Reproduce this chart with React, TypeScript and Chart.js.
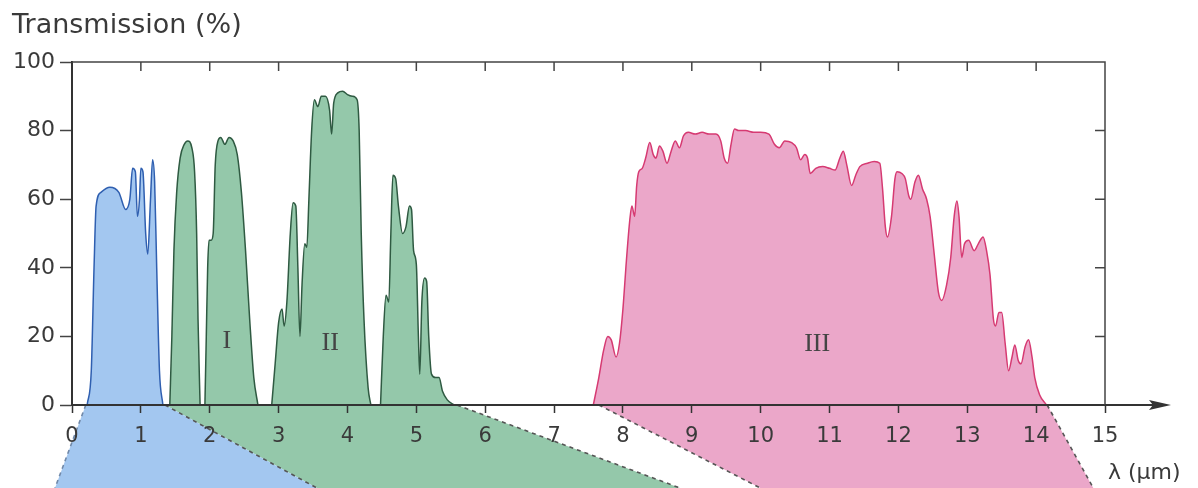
import React, { useEffect, useRef } from 'react';
import { Chart, registerables } from 'chart.js';
Chart.register(...registerables);

const xTickValues = [0, 1, 2, 3, 4, 5, 6, 7, 8, 9, 10, 11, 12, 13, 14, 15];
const yTickValues = [0, 20, 40, 60, 80, 100];

const blueX = [0.22, 0.28, 0.32, 0.35, 0.42, 0.55, 0.68, 0.78, 0.84, 0.88, 0.92, 0.95, 0.98, 1.0, 1.03, 1.07, 1.1, 1.14, 1.17, 1.2, 1.23, 1.27, 1.32];
const blueY = [0, 10, 40, 58, 62, 63.5, 62, 57, 60, 69, 68, 55, 60, 69, 68, 50, 44, 60, 71.5, 65, 40, 10, 0];

const greenX = [
  1.42, 1.45, 1.48, 1.52, 1.57, 1.63, 1.68, 1.74, 1.78, 1.81, 1.83, 1.86, 1.9,
  1.93, 1.95, 1.97, 1.99, 2.02, 2.05, 2.08, 2.12, 2.16, 2.22, 2.28, 2.34, 2.4, 2.46, 2.52, 2.58, 2.64, 2.7, 2.8,
  2.9, 2.95, 3.0, 3.05, 3.08, 3.12, 3.17, 3.21, 3.25, 3.28, 3.31, 3.34, 3.38, 3.41, 3.44, 3.48, 3.52, 3.57, 3.62, 3.68, 3.74, 3.77, 3.8, 3.86, 3.93, 4.0, 4.07, 4.14, 4.17, 4.2, 4.24, 4.3, 4.34, 4.4,
  4.48, 4.52, 4.56, 4.6, 4.63, 4.66, 4.7, 4.74, 4.8, 4.85, 4.9, 4.93, 4.96, 5.0, 5.03, 5.05, 5.08, 5.12, 5.15, 5.18, 5.22, 5.28, 5.33, 5.38, 5.45, 5.55
];
const greenY = [
  0, 20, 45, 62, 72, 76, 77, 75, 68, 50, 25, 0, null,
  0, 20, 40, 48, 48, 50, 70, 77, 78, 76, 78, 77, 73, 62, 45, 25, 8, 0, null,
  0, 12, 24, 28, 23, 30, 50, 59, 58, 40, 20, 35, 47, 46, 60, 80, 89, 87, 90, 90, 86, 79, 88, 91, 91.5, 90.5, 90, 89, 80, 50, 25, 5, 0, null,
  0, 20, 32, 30, 50, 67, 66, 58, 50, 52, 58, 57, 45, 41, 20, 9, 30, 37, 36, 20, 9, 8, 8, 4, 1.5, 0
];

const pinkX = [
  7.57, 7.65, 7.72, 7.78, 7.83, 7.9, 7.95, 8.0, 8.05, 8.1, 8.13, 8.17, 8.2, 8.23, 8.28, 8.33, 8.39, 8.44, 8.48, 8.53, 8.58, 8.64, 8.7, 8.76, 8.82, 8.88, 8.95,
  9.05, 9.15, 9.25, 9.35, 9.42, 9.47, 9.52, 9.57, 9.62, 9.68, 9.78, 9.9, 10.0, 10.12, 10.2, 10.27, 10.35, 10.45, 10.52, 10.58, 10.64, 10.68, 10.72, 10.8, 10.9,
  11.0, 11.08, 11.15, 11.2, 11.25, 11.32, 11.38, 11.44, 11.55, 11.65, 11.73, 11.77, 11.81, 11.84, 11.9, 11.95, 11.98, 12.05, 12.1, 12.15, 12.18, 12.24, 12.29,
  12.35, 12.41, 12.46, 12.52, 12.58, 12.63, 12.7, 12.76, 12.81, 12.85, 12.88, 12.92, 12.96, 13.02, 13.1, 13.16, 13.23, 13.28, 13.33, 13.38, 13.41, 13.46, 13.5,
  13.55, 13.6, 13.65, 13.69, 13.74, 13.78, 13.84, 13.89, 13.94, 13.98, 14.05, 14.15
];
const pinkY = [
  0, 8, 16, 20, 19, 14, 18, 28, 42, 54, 58, 55, 64, 68, 69, 72, 76.5, 73, 72, 75.5, 74, 70.5, 74, 77, 75, 78.5, 79.5,
  79, 79.5, 79, 79, 77, 72, 70.5, 76, 80.5, 80, 80, 79.5, 79.5, 79, 76, 75, 77, 76.5, 75, 71.5, 73, 72, 67.5, 69, 69.5,
  69, 68.5, 72, 74, 70, 64, 67, 69.5, 70.5, 71, 70.5, 63, 52, 49, 55, 66, 68, 67.5, 66, 61, 60, 65, 67,
  63, 60, 55, 44, 33, 30.5, 35, 43, 55, 59.5, 55, 43, 47, 48, 45, 47, 49, 45, 38, 25, 23, 27, 27,
  18, 10, 14, 17.5, 13, 12, 17, 19, 14, 8, 3, 0
];

// perspective "shadow" bands below the axis (value space: top-left, bottom-left, bottom-right, top-right)
const blueShadowX = [0.2, -0.28, 3.72, 1.35];
const blueShadowY = [0, -26, -26, 0];
const greenShadowX = [1.35, 3.72, 9.07, 5.59];
const greenShadowY = [0, -26, -26, 0];
const pinkShadowX = [7.65, 10.17, 14.88, 14.16];
const pinkShadowY = [0, -26, -26, 0];

const bandLabels = ['I', 'II', 'III'];
const bandLabelX = [2.25, 3.75, 10.82];
const bandLabelY = [18.5, 18, 17.8];

const toPts = (xs: number[], ys: (number | null)[]) => xs.map((x, i) => ({ x, y: ys[i] }));

const BLUE_FILL = '#a3c7f0';
const GREEN_FILL = '#94c8aa';
const PINK_FILL = '#eba7c9';

const shadowPlugin = {
  id: 'shadows',
  beforeDatasetsDraw(chart: any) {
    const { ctx, scales } = chart;
    const px = (v: number) => scales.x.getPixelForValue(v);
    const py = (v: number) => scales.y.getPixelForValue(v);
    const shapes = [
      { xs: greenShadowX, ys: greenShadowY, fill: GREEN_FILL, left: null, right: '#555' },
      { xs: blueShadowX, ys: blueShadowY, fill: BLUE_FILL, left: '#7088a8', right: '#555' },
      { xs: pinkShadowX, ys: pinkShadowY, fill: PINK_FILL, left: '#555', right: '#555' },
    ];
    ctx.save();
    shapes.forEach((s) => {
      ctx.beginPath();
      s.xs.forEach((xv, i) => {
        const X = px(xv), Y = py(s.ys[i]);
        if (i === 0) ctx.moveTo(X, Y); else ctx.lineTo(X, Y);
      });
      ctx.closePath();
      ctx.fillStyle = s.fill;
      ctx.fill();
    });
    ctx.lineWidth = 1.6;
    ctx.setLineDash([4, 4]);
    shapes.forEach((s) => {
      if (s.left) {
        ctx.strokeStyle = s.left;
        ctx.beginPath();
        ctx.moveTo(px(s.xs[0]), py(s.ys[0]));
        ctx.lineTo(px(s.xs[1]), py(s.ys[1]));
        ctx.stroke();
      }
      if (s.right) {
        ctx.strokeStyle = s.right;
        ctx.beginPath();
        ctx.moveTo(px(s.xs[3]), py(s.ys[3]));
        ctx.lineTo(px(s.xs[2]), py(s.ys[2]));
        ctx.stroke();
      }
    });
    ctx.restore();
  },
};

const decorPlugin = {
  id: 'decor',
  afterDraw(chart: any) {
    const { ctx, scales } = chart;
    const x = scales.x;
    const y = scales.y;
    const px = (v: number) => x.getPixelForValue(v);
    const py = (v: number) => y.getPixelForValue(v);
    ctx.save();
    ctx.strokeStyle = '#444';
    ctx.lineWidth = 1.5;
    ctx.beginPath();
    ctx.moveTo(px(0), py(100));
    ctx.lineTo(px(15), py(100));
    ctx.lineTo(px(15), py(0));
    ctx.stroke();
    ctx.beginPath();
    xTickValues.forEach((t) => {
      if (t > 0 && t < 15) {
        ctx.moveTo(px(t), py(100));
        ctx.lineTo(px(t), py(100) + 9);
      }
    });
    yTickValues.forEach((t) => {
      if (t > 0 && t < 100) {
        ctx.moveTo(px(15), py(t));
        ctx.lineTo(px(15) - 10, py(t));
      }
    });
    ctx.stroke();
    const y0 = py(0);
    const xe = px(15);
    ctx.strokeStyle = '#333';
    ctx.fillStyle = '#333';
    ctx.lineWidth = 2;
    ctx.beginPath();
    ctx.moveTo(xe, y0);
    ctx.lineTo(xe + 50, y0);
    ctx.stroke();
    ctx.beginPath();
    ctx.moveTo(xe + 66, y0);
    ctx.lineTo(xe + 44, y0 - 5);
    ctx.lineTo(xe + 48, y0);
    ctx.lineTo(xe + 44, y0 + 5);
    ctx.closePath();
    ctx.fill();
    ctx.fillStyle = '#3a3a3a';
    ctx.font = '22px "DejaVu Sans"';
    ctx.textAlign = 'left';
    ctx.textBaseline = 'middle';
    ctx.fillText('λ (µm)', xe + 3, 473);
    ctx.font = '26px "Liberation Serif"';
    ctx.textAlign = 'center';
    ctx.fillStyle = '#444';
    bandLabels.forEach((t, i) => {
      ctx.fillText(t, px(bandLabelX[i]), py(bandLabelY[i]));
    });
    ctx.restore();
  },
};

export default function App() {
  const ref = useRef<HTMLCanvasElement | null>(null);
  useEffect(() => {
    document.body.style.margin = '0';
    document.body.style.overflow = 'hidden';
    if (!ref.current) return;
    const chart = new Chart(ref.current, {
      type: 'line',
      data: {
        datasets: [
          {
            data: toPts(blueX, blueY),
            backgroundColor: BLUE_FILL,
            borderColor: '#2f5fb0',
            borderWidth: 1.5,
            fill: 'origin',
            pointRadius: 0,
            cubicInterpolationMode: 'monotone',
          },
          {
            data: toPts(greenX, greenY),
            backgroundColor: GREEN_FILL,
            borderColor: '#2f5a42',
            borderWidth: 1.5,
            fill: 'origin',
            pointRadius: 0,
            spanGaps: false,
            cubicInterpolationMode: 'monotone',
          },
          {
            data: toPts(pinkX, pinkY),
            backgroundColor: PINK_FILL,
            borderColor: '#d63a72',
            borderWidth: 1.5,
            fill: 'origin',
            pointRadius: 0,
            cubicInterpolationMode: 'monotone',
          },
        ] as any,
      },
      options: {
        animation: false,
        responsive: false,
        layout: { padding: { left: 12, right: 93, top: 0, bottom: 0 } },
        plugins: {
          legend: { display: false },
          tooltip: { enabled: false },
          title: {
            display: true,
            text: 'Transmission (%)',
            align: 'start',
            color: '#3a3a3a',
            font: { family: 'DejaVu Sans', size: 27, weight: 'normal', lineHeight: 1 },
            padding: { top: 12, bottom: 23 },
          },
        },
        scales: {
          x: {
            type: 'linear',
            min: 0,
            max: 15,
            afterFit: (s: any) => { s.height = 83; },
            afterBuildTicks: (s: any) => { s.ticks = xTickValues.map((v) => ({ value: v })); },
            ticks: {
              color: '#3a3a3a',
              font: { family: 'DejaVu Sans', size: 21 },
              padding: 11,
              maxRotation: 0,
              autoSkip: false,
              z: 1,
            },
            grid: { drawOnChartArea: false, tickLength: 8, tickColor: '#333', tickWidth: 1.5, z: 1 },
            border: { display: true, color: '#333', width: 2, z: 1 },
          },
          y: {
            type: 'linear',
            min: 0,
            max: 100,
            afterFit: (s: any) => { s.width = 60; },
            afterBuildTicks: (s: any) => { s.ticks = yTickValues.map((v) => ({ value: v })); },
            ticks: {
              color: '#3a3a3a',
              font: { family: 'DejaVu Sans', size: 22 },
              padding: 5,
            },
            grid: { drawOnChartArea: false, tickLength: 12, tickColor: '#444', tickWidth: 1.5 },
            border: { display: true, color: '#333', width: 2 },
          },
        },
      } as any,
      plugins: [shadowPlugin, decorPlugin],
    });
    return () => chart.destroy();
  }, []);
  return (
    <div style={{ width: 1198, height: 488 }}>
      <canvas ref={ref} width={1198} height={488} style={{ display: 'block' }} />
    </div>
  );
}
